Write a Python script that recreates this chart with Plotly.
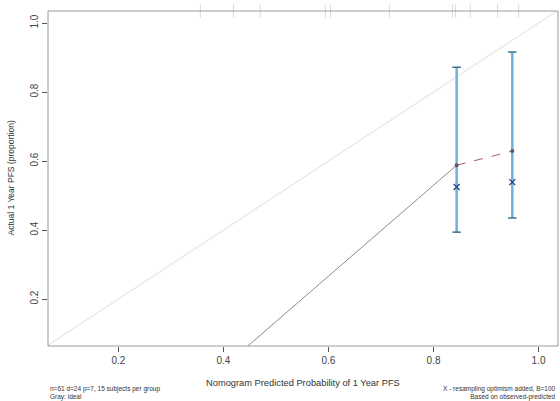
import plotly.graph_objects as go

# Data
pred_mean = [0.41, 0.844, 0.950]          # mean predicted per group (first group lies off-plot)
obs_apparent = [0.016, 0.588, 0.629]      # observed (apparent)
pred_ci = [0.844, 0.950]
ci_lower = [0.394, 0.435]
ci_upper = [0.872, 0.916]
obs_corrected = [0.525, 0.539]            # bias-corrected (X)
rug_pred = [0.356, 0.419, 0.470, 0.594, 0.604, 0.716, 0.836, 0.842, 0.870, 0.922, 0.962]
tick_vals = [0.2, 0.4, 0.6, 0.8, 1.0]
tick_text = ["0.2", "0.4", "0.6", "0.8", "1.0"]
ideal = [0.0, 1.2]

FONT = "Liberation Sans, Arial, sans-serif"
fig = go.Figure()

# ideal line
fig.add_trace(go.Scatter(x=ideal, y=ideal, mode="lines",
                         line=dict(color="#e6e6e6", width=1.2), showlegend=False, hoverinfo="skip"))

# calibration line: solid segment to first visible group, dashed between visible groups
fig.add_trace(go.Scatter(x=pred_mean[:2], y=obs_apparent[:2], mode="lines",
                         line=dict(color="#9a8582", width=1), showlegend=False))
fig.add_trace(go.Scatter(x=pred_mean[1:], y=obs_apparent[1:], mode="lines",
                         line=dict(color="#a8605a", width=1, dash="dash"), showlegend=False))

# error bars
for x, lo, hi in zip(pred_ci, ci_lower, ci_upper):
    fig.add_trace(go.Scatter(x=[x, x], y=[lo, hi], mode="lines",
                             line=dict(color="#74b0d4", width=2.5), showlegend=False))
    fig.add_trace(go.Scatter(x=[x - 0.008, x + 0.008, None, x - 0.008, x + 0.008],
                             y=[lo, lo, None, hi, hi], mode="lines",
                             line=dict(color="#3d6f8c", width=1.5), showlegend=False))

# apparent points
fig.add_trace(go.Scatter(x=pred_mean[1:], y=obs_apparent[1:], mode="markers",
                         marker=dict(color="#5a5a6a", size=4, symbol="circle"), showlegend=False))
# bias-corrected X
fig.add_trace(go.Scatter(x=pred_ci, y=obs_corrected, mode="markers",
                         marker=dict(color="#2a3f8f", size=6, symbol="x-thin",
                                     line=dict(color="#2a3f8f", width=1.3)), showlegend=False))

# rug at top
shapes = []
for r in rug_pred:
    shapes.append(dict(type="line", xref="x", yref="paper", x0=r, x1=r, y0=0.98, y1=1.02,
                       line=dict(color="#dadada", width=1)))
# box
shapes.append(dict(type="rect", xref="paper", yref="paper", x0=0, x1=1, y0=0, y1=1,
                   line=dict(color="#9a9a9a", width=1)))

axis_common = dict(tickvals=tick_vals, ticktext=tick_text, ticks="outside", ticklen=5,
                   tickcolor="#555", showgrid=False, zeroline=False, showline=False,
                   tickfont=dict(family=FONT, size=10, color="#444"))
fig.update_layout(
    width=560, height=401,
    margin=dict(l=48, r=2, t=11, b=55),
    paper_bgcolor="white", plot_bgcolor="white",
    shapes=shapes,
    xaxis=dict(range=[0.066, 1.037], **axis_common),
    yaxis=dict(range=[0.064, 1.035], tickangle=-90, **axis_common),
    annotations=[
        dict(text="Nomogram Predicted Probability of 1 Year PFS", xref="paper", yref="paper",
             x=0.5, y=0, yshift=-37, showarrow=False, xanchor="center", yanchor="middle",
             font=dict(family=FONT, size=9.3, color="#333")),
        dict(text="Actual 1 Year PFS (proportion)", xref="paper", yref="paper",
             x=0, y=0.5, xshift=-38, textangle=-90, showarrow=False, xanchor="center", yanchor="middle",
             font=dict(family=FONT, size=8.5, color="#333")),
        dict(text="n=61 d=24 p=7, 15 subjects per group<br>Gray: ideal", xref="paper", yref="paper",
             x=0, y=0, yshift=-37, showarrow=False, xanchor="left", yanchor="top", align="left",
             font=dict(family=FONT, size=6.5, color="#333")),
        dict(text="X - resampling optimism added, B=100<br>Based on observed-predicted", xref="paper", yref="paper",
             x=1, y=0, yshift=-37, showarrow=False, xanchor="right", yanchor="top", align="right",
             font=dict(family=FONT, size=6.5, color="#333")),
    ],
)

fig.write_html("out.html", config={"displayModeBar": False},
               post_script="document.body.style.margin='0';")
